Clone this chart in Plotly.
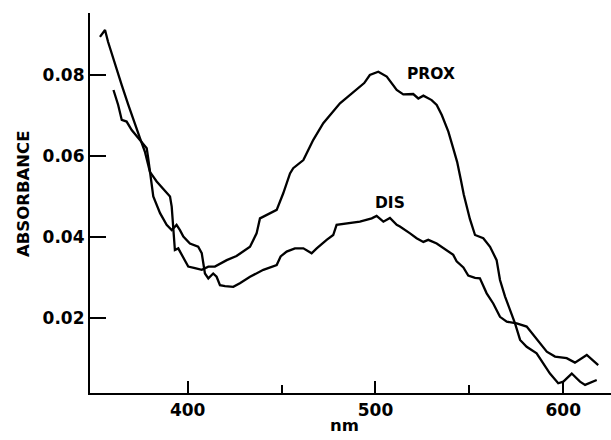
import plotly.graph_objects as go

# PROX spectrum (wavelength nm, absorbance)
prox_nm = [353.3, 356.0, 357.6, 361.3, 364.9, 368.4, 371.9, 374.6, 377.2, 379.0,
           379.9, 383.5, 387.0, 390.6, 391.5, 392.3, 393.2, 393.2, 395.0, 397.7,
           400.3, 403.9, 407.5, 411.0, 414.5, 420.8, 426.0, 433.2, 436.7, 438.5,
           442.0, 447.4, 450.9, 454.5, 456.2, 461.6, 466.9, 472.2, 481.1, 490.0,
           494.0, 497.0, 501.5, 506.0, 508.6, 511.3, 514.8, 520.1, 522.8, 525.5,
           529.9, 532.6, 535.3, 538.8, 541.4, 543.5, 545.5, 547.0, 550.3, 553.0,
           557.4, 561.0, 564.5, 566.3, 569.0, 571.6, 574.3, 577.0, 580.5, 585.8,
           589.4, 592.9, 597.3, 600.0, 604.5, 608.9, 611.6, 617.8]
prox_abs = [0.0894, 0.0911, 0.0882, 0.0825, 0.0775, 0.0726, 0.0677, 0.0644, 0.0611, 0.0578,
            0.0561, 0.0537, 0.0520, 0.0500, 0.0475, 0.0425, 0.0393, 0.0368, 0.0372, 0.0347,
            0.0327, 0.0323, 0.0319, 0.0327, 0.0327, 0.0343, 0.0353, 0.0376, 0.0409, 0.0446,
            0.0454, 0.0467, 0.0508, 0.0557, 0.0570, 0.0590, 0.0640, 0.0681, 0.0730, 0.0763,
            0.0780, 0.0800, 0.0808, 0.0796, 0.0779, 0.0763, 0.0752, 0.0753, 0.0742, 0.0749,
            0.0738, 0.0726, 0.0701, 0.0660, 0.0619, 0.0585, 0.0540, 0.0505, 0.0444, 0.0405,
            0.0397, 0.0376, 0.0343, 0.0294, 0.0253, 0.0220, 0.0187, 0.0146, 0.0129, 0.0113,
            0.0088, 0.0063, 0.0039, 0.0043, 0.0063, 0.0043, 0.0035, 0.0047]

# DIS spectrum (wavelength nm, absorbance)
dis_nm = [360.5, 363.0, 364.9, 367.5, 370.2, 373.7, 376.4, 378.2, 379.0, 379.9,
          381.7, 385.3, 388.8, 391.5, 394.1, 395.9, 397.7, 401.2, 405.6, 407.5,
          408.3, 409.2, 411.0, 413.6, 415.4, 417.2, 419.9, 424.3, 427.8, 433.2,
          440.3, 447.4, 449.5, 452.7, 457.1, 461.6, 466.0, 468.7, 474.0, 477.5,
          479.3, 484.7, 491.7, 498.0, 500.6, 504.2, 507.7, 511.3, 513.0, 518.4,
          521.9, 525.5, 528.1, 532.6, 536.1, 541.4, 543.2, 546.8, 549.4, 553.0,
          555.6, 559.2, 562.7, 566.3, 569.9, 575.2, 580.5, 584.0, 587.6, 591.2,
          595.6, 601.8, 606.2, 612.5, 618.6]
dis_abs = [0.0763, 0.0726, 0.0689, 0.0685, 0.0664, 0.0644, 0.0631, 0.0619, 0.0594, 0.0561,
           0.0500, 0.0459, 0.0430, 0.0417, 0.0430, 0.0417, 0.0401, 0.0384, 0.0376, 0.0360,
           0.0335, 0.0310, 0.0298, 0.0310, 0.0302, 0.0281, 0.0279, 0.0277, 0.0286, 0.0302,
           0.0319, 0.0331, 0.0352, 0.0364, 0.0372, 0.0372, 0.0360, 0.0372, 0.0393, 0.0405,
           0.0430, 0.0434, 0.0438, 0.0446, 0.0452, 0.0438, 0.0447, 0.0430, 0.0426, 0.0409,
           0.0397, 0.0388, 0.0393, 0.0384, 0.0372, 0.0356, 0.0340, 0.0325, 0.0305, 0.0299,
           0.0298, 0.0261, 0.0236, 0.0203, 0.0191, 0.0187, 0.0179, 0.0158, 0.0138, 0.0117,
           0.0105, 0.0101, 0.0090, 0.0109, 0.0084]

x_major = [400, 500, 600]
x_minor = [450, 550]
y_ticks = [0.02, 0.04, 0.06, 0.08]
y_ticktext = ["0.02", "0.04", "0.06", "0.08"]

FONT = "DejaVu Sans"

fig = go.Figure()
fig.add_trace(go.Scatter(x=prox_nm, y=prox_abs, mode="lines", name="PROX",
                         line=dict(color="black", width=2.3), showlegend=False))
fig.add_trace(go.Scatter(x=dis_nm, y=dis_abs, mode="lines", name="DIS",
                         line=dict(color="black", width=2.3), showlegend=False))

fig.add_annotation(x=529.6, y=0.0802, text="PROX", showarrow=False,
                   font=dict(family=FONT, size=15.5, color="black", weight="bold"))
fig.add_annotation(x=507.7, y=0.0484, text="DIS", showarrow=False,
                   font=dict(family=FONT, size=15.5, color="black", weight="bold"))
fig.add_annotation(xref="paper", yref="paper", x=0, y=0.5237, xshift=-66,
                   text="ABSORBANCE", textangle=-90, showarrow=False,
                   xanchor="center", yanchor="middle",
                   font=dict(family=FONT, size=16.5, color="black", weight="bold"))
fig.add_annotation(xref="paper", yref="paper", x=0.489, y=0, yshift=-32,
                   text="nm", showarrow=False, xanchor="center", yanchor="middle",
                   font=dict(family=FONT, size=16.5, color="black", weight="bold"))

tickfont = dict(family=FONT, size=17, color="black", weight="bold")

fig.update_layout(
    width=611, height=440,
    margin=dict(l=90, r=0, t=13, b=47),
    paper_bgcolor="white", plot_bgcolor="white",
    font=dict(family=FONT, size=17, color="black"),
    xaxis=dict(range=[348.0, 625.4], tickvals=x_major, ticks="inside", ticklen=12,
               tickwidth=2, tickcolor="black", showline=True, linewidth=2.2,
               linecolor="black", showgrid=False, zeroline=False,
               minor=dict(tickvals=x_minor, ticks="inside", ticklen=8,
                          tickwidth=2, tickcolor="black", showgrid=False),
               tickfont=tickfont),
    yaxis=dict(range=[0.0015, 0.0953], tickvals=y_ticks, ticktext=y_ticktext,
               ticks="inside", ticklen=16, tickwidth=2, tickcolor="black",
               showline=True, linewidth=2.2, linecolor="black", showgrid=False,
               zeroline=False, tickfont=tickfont),
)

fig.write_html("out.html")
